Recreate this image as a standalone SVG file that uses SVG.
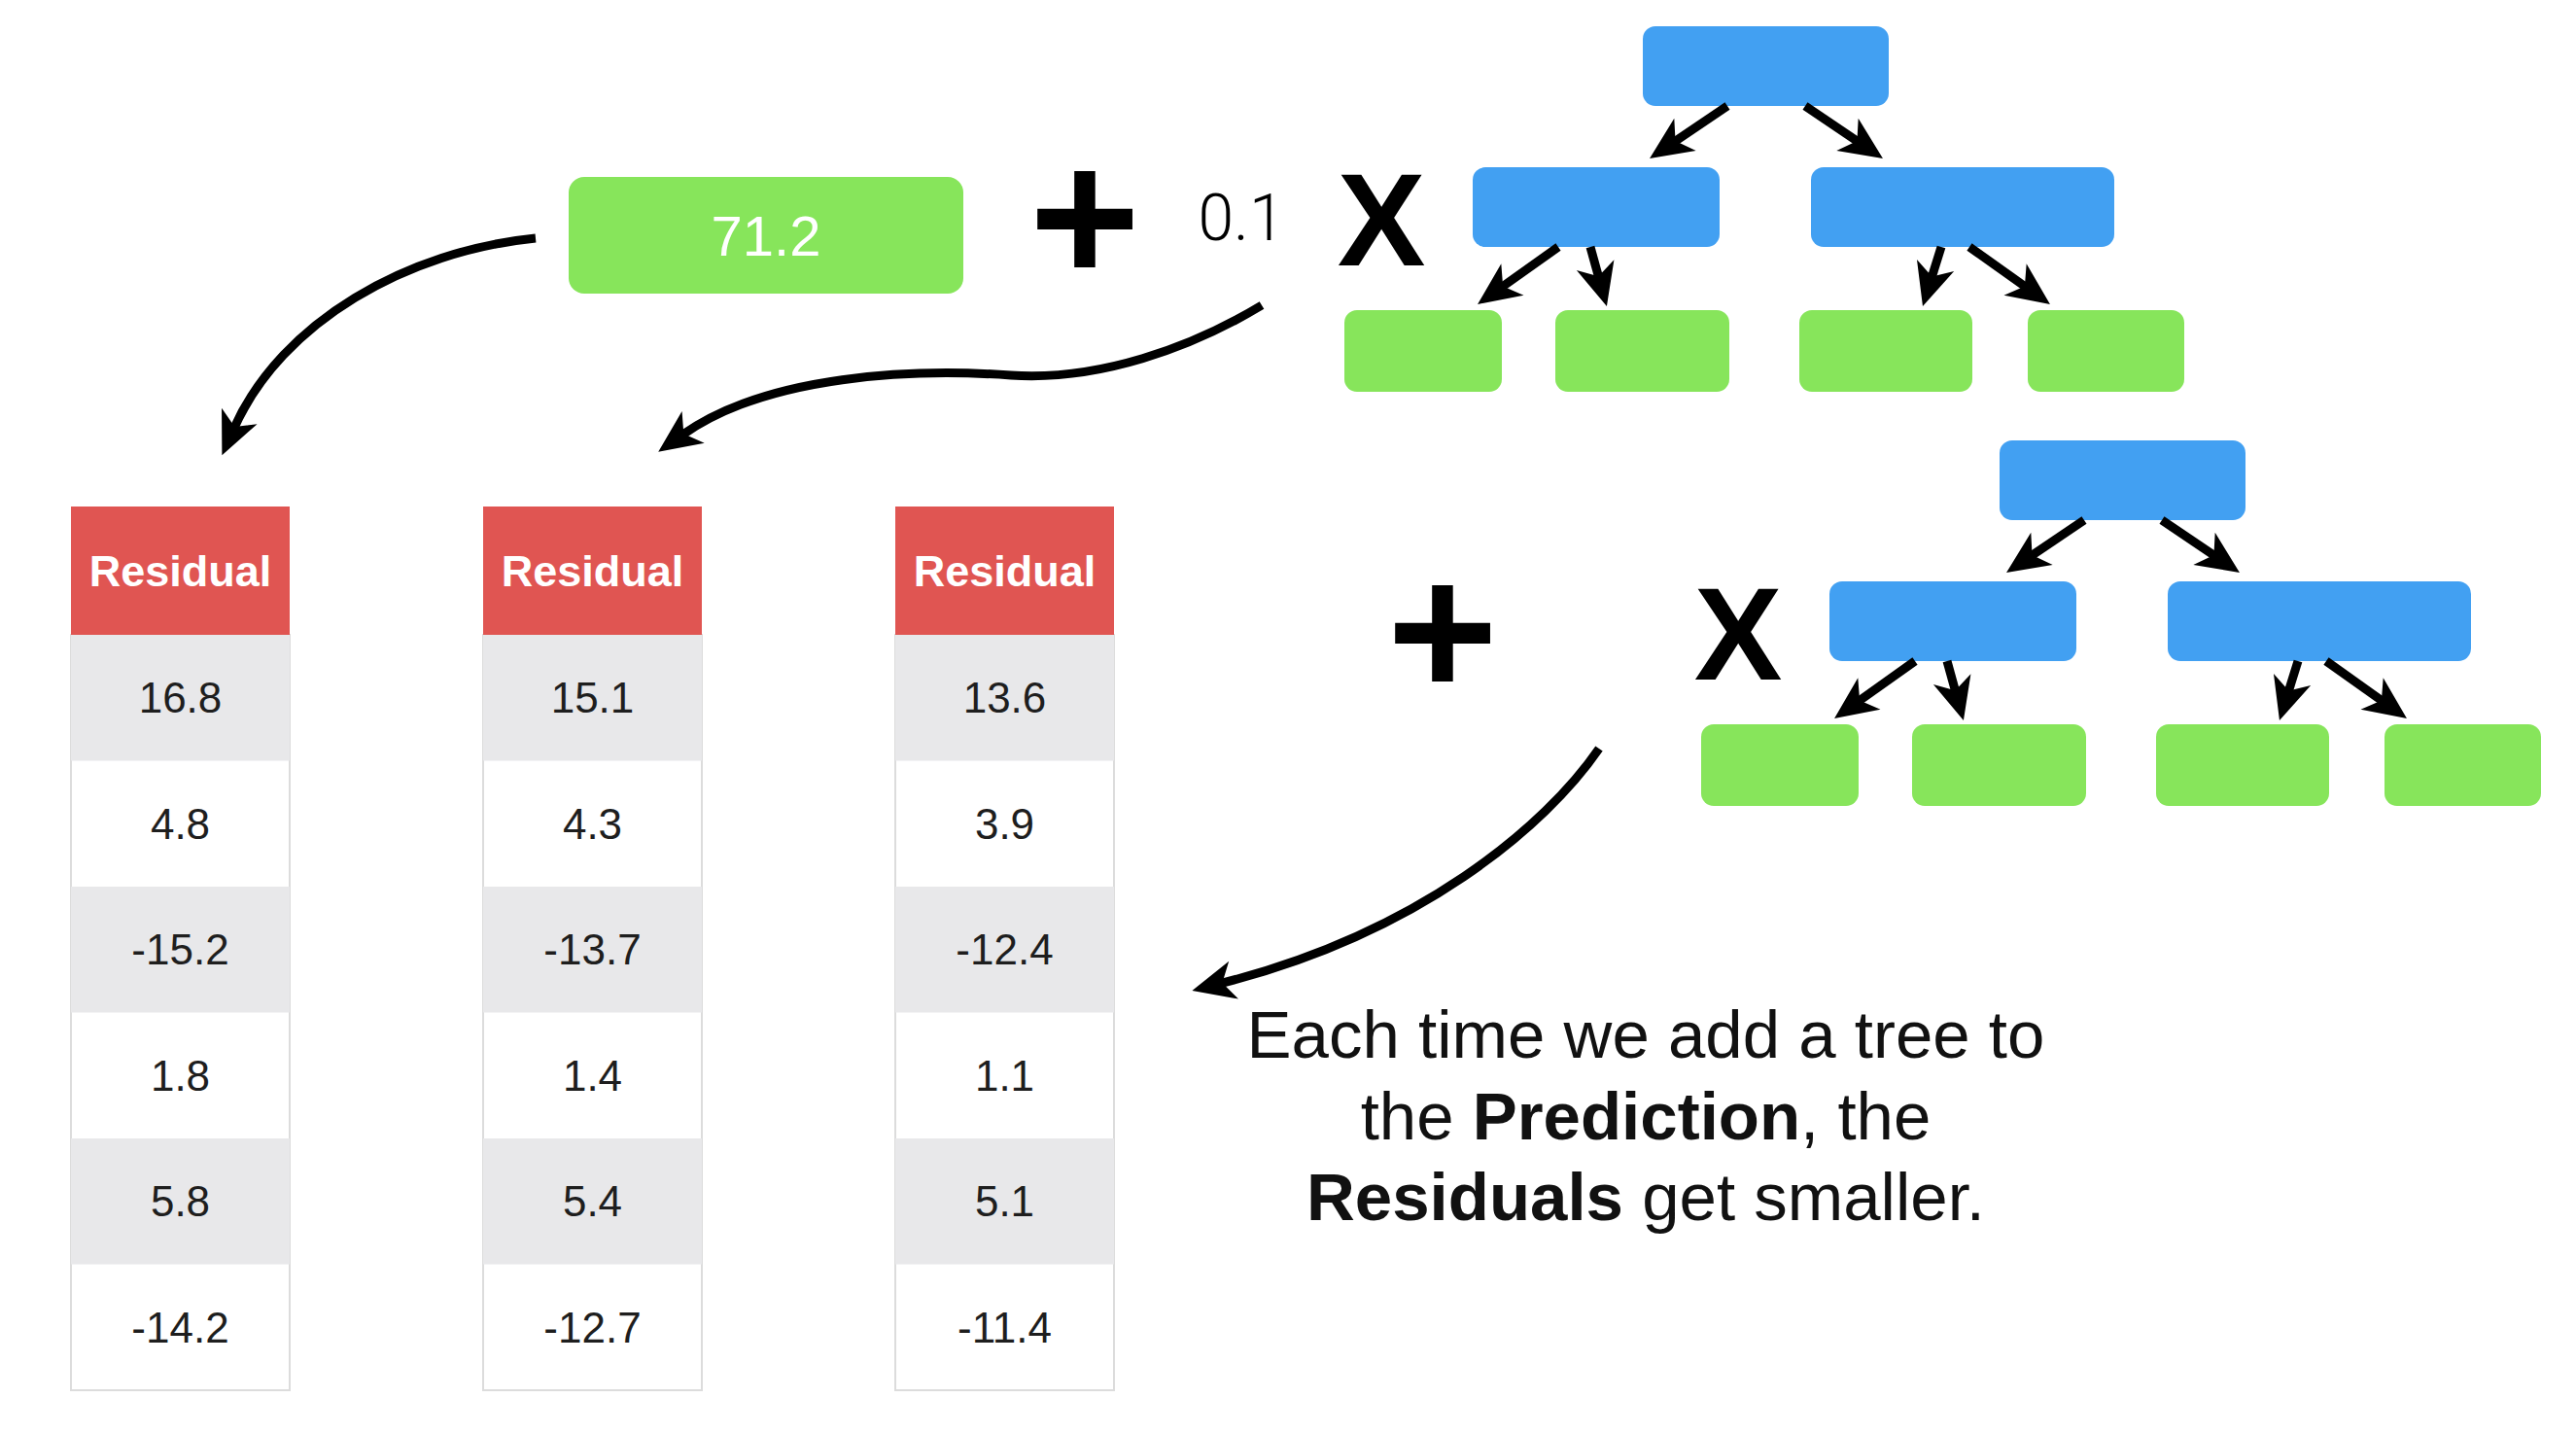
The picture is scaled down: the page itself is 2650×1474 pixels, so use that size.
<svg xmlns="http://www.w3.org/2000/svg" xmlns:xlink="http://www.w3.org/1999/xlink" width="2650" height="1474" viewBox="0 0 2650 1474">
<style>
.bl{fill:#42A0F2}
.gr{fill:#87E55B}
.hd{fill:#E05552}
.g{fill:#E8E8EA}
.w{fill:#FFFFFF}
.ln{fill:none;stroke:#000;stroke-width:9;marker-end:url(#ah)}
.num{font-family:"Liberation Sans",Arial,sans-serif;font-size:44px;fill:#1e1e1e;text-anchor:middle}
.hdt{font-family:"Liberation Sans",Arial,sans-serif;font-size:45px;font-weight:bold;fill:#fff;text-anchor:middle}
.op{font-family:"Liberation Sans",Arial,sans-serif;font-weight:bold;fill:#000;text-anchor:middle}
.txt{font-family:"Liberation Sans",Arial,sans-serif;font-size:69px;fill:#111;text-anchor:middle}
</style>
<defs>
<marker id="ah" markerUnits="userSpaceOnUse" markerWidth="50" markerHeight="50" refX="14" refY="22" orient="auto" overflow="visible">
<path d="M0,2 L44,22 L0,42 L12,22 Z" fill="#000"/>
</marker>
</defs>
<rect width="2650" height="1474" fill="#fff"/>

<g id="prediction">
<rect x="585" y="182" width="406" height="120" rx="16" class="gr"/>
<text x="788" y="263" font-family="'Liberation Sans',Arial,sans-serif" font-size="58" fill="#fff" text-anchor="middle">71.2</text>
</g>

<g id="plus1"><text x="1116" y="290" class="op" font-size="195">+</text></g>
<g id="lr"><text x="1277" y="247" font-family="Roboto,'Liberation Sans',sans-serif" font-weight="300" font-size="66" fill="#000" text-anchor="middle">0.1</text></g>

<g id="tree1">
<g id="t1-x"><text x="1421" y="273" class="op" font-size="136">X</text></g>
<g id="t1-root"><rect x="1690" y="27" width="253" height="82" rx="13" class="bl"/></g>
<g id="t1-left"><rect x="1515" y="172" width="254" height="82" rx="13" class="bl"/></g>
<g id="t1-right"><rect x="1863" y="172" width="312" height="82" rx="13" class="bl"/></g>
<g id="t1-leaf1"><rect x="1383" y="319" width="162" height="84" rx="13" class="gr"/></g>
<g id="t1-leaf2"><rect x="1600" y="319" width="179" height="84" rx="13" class="gr"/></g>
<g id="t1-leaf3"><rect x="1851" y="319" width="178" height="84" rx="13" class="gr"/></g>
<g id="t1-leaf4"><rect x="2086" y="319" width="161" height="84" rx="13" class="gr"/></g>
</g>

<g id="plus2"><text x="1484" y="716" class="op" font-size="195">+</text></g>

<g id="tree2">
<g id="t2-x"><text x="1788" y="699" class="op" font-size="136">X</text></g>
<g id="t2-root"><rect x="2057" y="453" width="253" height="82" rx="13" class="bl"/></g>
<g id="t2-left"><rect x="1882" y="598" width="254" height="82" rx="13" class="bl"/></g>
<g id="t2-right"><rect x="2230" y="598" width="312" height="82" rx="13" class="bl"/></g>
<g id="t2-leaf1"><rect x="1750" y="745" width="162" height="84" rx="13" class="gr"/></g>
<g id="t2-leaf2"><rect x="1967" y="745" width="179" height="84" rx="13" class="gr"/></g>
<g id="t2-leaf3"><rect x="2218" y="745" width="178" height="84" rx="13" class="gr"/></g>
<g id="t2-leaf4"><rect x="2453" y="745" width="161" height="84" rx="13" class="gr"/></g>
</g>

<g id="table1">
<rect x="73" y="653" width="225" height="777" class="w" stroke="#dcdcdc" stroke-width="2"/>
<rect x="73" y="521" width="225" height="132" class="hd"/>
<rect x="73" y="653" width="225" height="129.5" class="g"/>
<rect x="73" y="912" width="225" height="129.5" class="g"/>
<rect x="73" y="1171" width="225" height="129.5" class="g"/>
<text x="185.5" y="603" class="hdt">Residual</text>
<text x="185.5" y="733" class="num">16.8</text>
<text x="185.5" y="863" class="num">4.8</text>
<text x="185.5" y="992" class="num">-15.2</text>
<text x="185.5" y="1122" class="num">1.8</text>
<text x="185.5" y="1251" class="num">5.8</text>
<text x="185.5" y="1381" class="num">-14.2</text>
</g>

<g id="table2">
<rect x="497" y="653" width="225" height="777" class="w" stroke="#dcdcdc" stroke-width="2"/>
<rect x="497" y="521" width="225" height="132" class="hd"/>
<rect x="497" y="653" width="225" height="129.5" class="g"/>
<rect x="497" y="912" width="225" height="129.5" class="g"/>
<rect x="497" y="1171" width="225" height="129.5" class="g"/>
<text x="609.5" y="603" class="hdt">Residual</text>
<text x="609.5" y="733" class="num">15.1</text>
<text x="609.5" y="863" class="num">4.3</text>
<text x="609.5" y="992" class="num">-13.7</text>
<text x="609.5" y="1122" class="num">1.4</text>
<text x="609.5" y="1251" class="num">5.4</text>
<text x="609.5" y="1381" class="num">-12.7</text>
</g>

<g id="table3">
<rect x="921" y="653" width="225" height="777" class="w" stroke="#dcdcdc" stroke-width="2"/>
<rect x="921" y="521" width="225" height="132" class="hd"/>
<rect x="921" y="653" width="225" height="129.5" class="g"/>
<rect x="921" y="912" width="225" height="129.5" class="g"/>
<rect x="921" y="1171" width="225" height="129.5" class="g"/>
<text x="1033.5" y="603" class="hdt">Residual</text>
<text x="1033.5" y="733" class="num">13.6</text>
<text x="1033.5" y="863" class="num">3.9</text>
<text x="1033.5" y="992" class="num">-12.4</text>
<text x="1033.5" y="1122" class="num">1.1</text>
<text x="1033.5" y="1251" class="num">5.1</text>
<text x="1033.5" y="1381" class="num">-11.4</text>
</g>

<g id="caption" class="txt">
<text x="1693" y="1088">Each time we add a tree to</text>
<text x="1693" y="1172">the <tspan font-weight="bold">Prediction</tspan>, the</text>
<text x="1693" y="1255"><tspan font-weight="bold">Residuals</tspan> get smaller.</text>
</g>

<g id="connectors">
<path class="ln" d="M551,245 C420,258 290,330 240.6,440.8"/>
<path class="ln" d="M1298,314 C1225,358 1130,392 1040,386 C940,379 790,385 701.7,447.5"/>
<path class="ln" d="M1645,770 C1590,850 1460,960 1255.5,1011.6"/>
<path class="ln" d="M1777,109 L1721.9,146.2"/>
<path class="ln" d="M1857,109 L1912.1,146.2"/>
<path class="ln" d="M1603,254 L1544.5,295.6"/>
<path class="ln" d="M1636,254 L1644.9,286.1"/>
<path class="ln" d="M1997,254 L1986.9,286.4"/>
<path class="ln" d="M2026,254 L2084.5,295.6"/>
<path class="ln" d="M2144,535 L2088.9,572.2"/>
<path class="ln" d="M2224,535 L2279.1,572.2"/>
<path class="ln" d="M1970,680 L1911.5,721.6"/>
<path class="ln" d="M2003,680 L2011.9,712.1"/>
<path class="ln" d="M2364,680 L2353.9,712.4"/>
<path class="ln" d="M2393,680 L2451.5,721.6"/>
</g>
</svg>
